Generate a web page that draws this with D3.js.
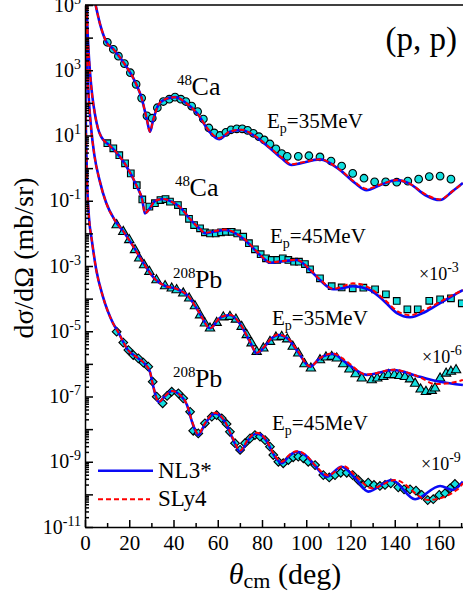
<!DOCTYPE html>
<html><head><meta charset="utf-8">
<script src="https://cdn.jsdelivr.net/npm/d3@7"></script>
<style>
body{margin:0;background:#fff}
svg{display:block}
.axis line,.axis path{stroke:#000;stroke-width:1.5}
</style>
</head><body><svg id="c" width="463" height="599"></svg>
<script>
// ---------- axis ticks ----------
const xMajorTicks = [0,20,40,60,80,100,120,140,160];
const xMinorTicks = [10,30,50,70,90,110,130,150,170];
const yLabelExps = [-11,-9,-7,-5,-3,-1,1,3,5];

// ---------- experimental data [theta, dσ/dΩ] ----------
const ca35Data = [[10.1,7.2e3],[12.8,4.4e3],[15.1,2.7e3],[17.8,1.6e3],[20.5,840],[23.1,370],[25.6,140],[28.0,40],[30.4,34],[32.7,71],[35.4,110],[38.1,130],[40.7,150],[43.3,130],[45.6,110],[48.2,80],[50.9,54],[53.5,32],[56.0,17],[58.4,12],[61.0,10],[63.7,12.5],[66.0,15],[68.6,16],[71.1,16],[73.5,14.4],[76.1,11.7],[78.6,9.2],[81.0,7.3],[83.6,5.5],[86.3,3.9],[88.9,2.8],[91.4,2.3],[96.4,2.3],[101.2,2.4],[106.2,2.2],[111.2,1.65],[116.0,1.16],[121.0,0.69],[126.1,0.49],[130.9,0.38],[135.9,0.38],[140.9,0.37],[145.9,0.40],[150.8,0.46],[155.6,0.55],[160.5,0.57],[165.4,0.46]];
const ca45Data = [[10.1,5.8],[12.8,4.05],[15.5,2.5],[18.1,1.4],[20.7,0.69],[23.4,0.30],[25.9,0.11],[29.1,0.066],[31.6,0.084],[34.1,0.105],[36.4,0.113],[38.4,0.094],[42.0,0.074],[44.3,0.046],[47.0,0.028],[49.3,0.018],[52.0,0.0143],[54.2,0.0108],[56.5,0.010],[59.1,0.010],[61.5,0.0108],[63.7,0.0112],[66.3,0.0112],[68.8,0.010],[71.5,0.0079],[74.1,0.0050],[76.8,0.00325],[79.4,0.0023],[81.8,0.00172],[84.4,0.00153],[86.9,0.00153],[89.4,0.00172],[91.9,0.00153],[94.5,0.00136],[96.7,0.00136],[99.4,0.00115],[101.7,7.9e-4],[106.2,4.2e-4],[111.5,2.4e-4],[116.0,2.2e-4],[121.0,2.07e-4],[125.8,2.16e-4],[131.1,1.93e-4],[136.0,1.36e-4],[140.9,8.5e-5],[145.7,4.7e-5],[150.4,4.7e-5],[155.6,8.6e-5],[160.5,9.5e-5],[165.4,1.02e-4],[170.3,7.2e-5]];
const pb35Data = [[14.3,0.018],[17.3,0.0112],[20.0,0.0063],[22.6,0.0031],[24.5,0.00172],[26.7,0.00107],[29.1,6.7e-4],[32.3,3.7e-4],[36.2,2.44e-4],[39.2,2.07e-4],[41.4,1.84e-4],[44.4,1.46e-4],[47.1,1.02e-4],[49.7,5.9e-5],[52.0,3.1e-5],[54.2,1.75e-5],[56.5,1.23e-5],[59.5,1.83e-5],[62.5,2.7e-5],[65.5,2.8e-5],[68.2,2.3e-5],[70.8,1.38e-5],[73.1,7.7e-6],[75.3,4.3e-6],[77.6,2.36e-6],[80.6,3.0e-6],[83.6,4.8e-6],[86.3,6.5e-6],[88.9,6.8e-6],[91.4,5.7e-6],[93.9,3.4e-6],[96.4,2.1e-6],[99.2,9.9e-7],[102.1,7.3e-7],[106.2,1.31e-6],[108.9,1.59e-6],[111.5,1.66e-6],[113.8,1.48e-6],[116.7,9.9e-7],[119.5,6.8e-7],[122.3,4.9e-7],[125.1,3.6e-7],[129.6,3.2e-7],[132.1,3.6e-7],[134.8,4.0e-7],[137.1,4.6e-7],[139.8,4.6e-7],[142.1,4.3e-7],[144.6,4.0e-7],[146.9,3.4e-7],[149.2,2.5e-7],[151.7,1.66e-7],[154.1,1.40e-7],[156.7,1.51e-7],[158.2,1.79e-7],[160.5,3.6e-7],[163.2,5.1e-7],[165.4,5.8e-7],[167.7,6.5e-7]];
const pb45Data = [[14.3,9.7e-6],[17.3,4.5e-6],[19.6,2.66e-6],[21.8,1.87e-6],[24.1,1.48e-6],[26.4,1.09e-6],[28.6,8.2e-7],[30.6,2.84e-7],[32.4,9.9e-8],[35.1,6.2e-8],[37.1,1.04e-7],[39.2,1.40e-7],[42.2,1.25e-7],[44.4,8.8e-8],[47.5,3.4e-8],[48.9,8.9e-9],[51.2,7.4e-9],[54.2,1.51e-8],[57.3,2.4e-8],[59.5,2.7e-8],[61.8,2.15e-8],[64.0,1.44e-8],[65.5,8.3e-9],[67.8,3.7e-9],[70.1,2.3e-9],[72.3,3.7e-9],[74.6,5.2e-9],[76.8,6.6e-9],[79.1,5.9e-9],[81.4,4.6e-9],[83.6,2.9e-9],[85.1,1.61e-9],[87.4,1.0e-9],[89.6,9.0e-10],[91.9,1.13e-9],[94.1,1.37e-9],[96.4,1.43e-9],[98.7,1.28e-9],[100.9,1.0e-9],[104.0,7.9e-10],[107.7,3.9e-10],[110.4,3.3e-10],[113.0,3.9e-10],[115.6,4.6e-10],[118.3,4.6e-10],[121.0,3.9e-10],[123.5,2.76e-10],[125.8,1.94e-10],[128.0,2.28e-10],[130.6,1.94e-10],[133.3,1.81e-10],[135.6,1.94e-10],[138.2,2.18e-10],[141.6,1.64e-10],[144.2,1.43e-10],[146.9,1.43e-10],[149.6,1.30e-10],[152.2,9.6e-11],[154.9,6.7e-11],[157.4,7.1e-11],[160.1,9.6e-11],[162.7,1.08e-10],[165.0,1.53e-10],[167.2,2.08e-10]];

// ---------- model curves [theta, dσ/dΩ] ----------
const ca35NL3 = [[4.8,1e5],[6.8,2.6e4],[9.6,7.5e3],[13,4.3e3],[17.6,1.66e3],[23.1,380],[25.6,140],[28.0,30],[29.4,13],[30.7,28],[32.7,75],[35.3,120],[40.7,150],[45.6,100],[50.9,46],[56.0,13.7],[60.6,7.7],[65.5,13],[70.8,14.8],[75.9,10.4],[83.6,4.1],[88.9,2.0],[93.4,1.25],[97.2,1.4],[106.2,1.86],[115.3,0.87],[122.0,0.35],[127.3,0.21],[133.3,0.30],[140.9,0.43],[146.9,0.33],[153.7,0.15],[160.5,0.105],[165.9,0.19],[170.8,0.35]];
const ca35SLy4 = [[4.8,1e5],[6.8,2.6e4],[9.6,7.5e3],[13,4.3e3],[17.6,1.66e3],[23.1,380],[25.6,140],[28.0,30],[29.4,13],[30.7,28],[32.7,75],[35.3,120],[40.7,150],[45.6,100],[50.9,46],[56.0,14.5],[60.6,8.3],[65.5,13.3],[70.8,15],[75.9,10.6],[83.6,4.2],[88.9,2.1],[93.4,1.32],[97.2,1.45],[106.2,1.86],[115.3,0.88],[122.0,0.37],[127.3,0.23],[133.3,0.31],[140.9,0.43],[146.9,0.33],[153.7,0.16],[160.5,0.11],[165.9,0.19],[170.8,0.35]];
const ca45NL3 = [[0.75,1e5],[1.1,2e4],[1.6,4e3],[2.3,800],[3.3,160],[4.5,45],[5.8,17],[7.3,9.2],[8.9,6.6],[10.1,5.7],[12.7,3.9],[18.1,1.34],[23.4,0.28],[25.9,0.105],[27.1,0.041],[29.4,0.06],[31.6,0.098],[35.3,0.113],[39.3,0.092],[42.9,0.064],[47.5,0.0275],[52.0,0.0136],[54.2,0.0102],[58.8,0.0114],[63.3,0.0127],[67.8,0.0102],[72.3,0.0063],[76.8,0.0031],[80.5,0.00176],[83.6,0.00126],[90.4,0.00142],[95.7,0.00153],[101.7,7.5e-4],[106.2,3.7e-4],[112.2,1.93e-4],[116.6,2.1e-4],[121.1,2.4e-4],[128.8,1.84e-4],[135.6,7.9e-5],[141.0,3.6e-5],[146.9,2.7e-5],[153.7,3.9e-5],[160.5,7.3e-5],[165.9,1.2e-4],[170.8,1.84e-4]];
const ca45SLy4 = [[0.75,1e5],[1.1,2e4],[1.6,4e3],[2.3,800],[3.3,160],[4.5,45],[5.8,17],[7.3,9.2],[8.9,6.6],[10.1,5.7],[12.7,3.9],[18.1,1.34],[23.4,0.28],[25.9,0.105],[27.1,0.041],[29.4,0.06],[31.6,0.098],[35.3,0.113],[39.3,0.092],[42.9,0.064],[47.5,0.0275],[52.0,0.0136],[54.2,0.0104],[58.8,0.0118],[63.3,0.0131],[67.8,0.0105],[72.3,0.0065],[76.8,0.0032],[80.5,0.0018],[83.6,0.0013],[90.4,0.00145],[95.7,0.00155],[101.7,7.8e-4],[106.2,3.9e-4],[112.2,2.0e-4],[116.6,2.4e-4],[121.1,2.95e-4],[128.8,2.1e-4],[135.6,9.0e-5],[141.0,4.2e-5],[146.9,3.1e-5],[153.7,4.6e-5],[160.5,8.0e-5],[165.9,1.25e-4],[170.8,1.84e-4]];
const pb35NL3 = [[0.35,1e5],[0.7,6e3],[1.2,700],[1.8,110],[2.8,16],[4.2,2.6],[6.6,0.42],[9.6,0.085],[13.4,0.0257],[17.2,0.0118],[22.6,0.0033],[26.7,0.00115],[31.6,4.0e-4],[36.2,2.44e-4],[41.6,1.97e-4],[47.0,1.12e-4],[52.0,3.4e-5],[56.5,1.23e-5],[61.0,2.55e-5],[65.5,3.15e-5],[70.1,1.67e-5],[74.6,4.7e-6],[77.6,2.1e-6],[81.4,3.5e-6],[84.5,6.2e-6],[87.4,7.7e-6],[91.8,5.8e-6],[96.3,2.3e-6],[101.7,8.2e-7],[106.2,1.5e-6],[112.2,2.0e-6],[117.5,1.15e-6],[127.3,4.6e-7],[139.3,6.5e-7],[151.4,4.0e-7],[160.5,2.85e-7],[170.8,2.25e-7]];
const pb35SLy4 = [[0.35,1e5],[0.7,6e3],[1.2,700],[1.8,110],[2.8,16],[4.2,2.6],[6.6,0.42],[9.6,0.085],[13.4,0.0257],[17.2,0.0118],[22.6,0.0033],[26.7,0.00115],[31.6,4.0e-4],[36.2,2.44e-4],[41.6,1.97e-4],[47.0,1.12e-4],[52.0,3.4e-5],[56.5,1.23e-5],[61.0,2.6e-5],[65.5,3.2e-5],[70.1,1.7e-5],[74.6,4.8e-6],[77.6,2.2e-6],[81.4,3.6e-6],[84.5,6.4e-6],[87.4,7.9e-6],[91.8,6.0e-6],[96.3,2.4e-6],[101.7,8.3e-7],[106.2,1.5e-6],[112.2,2.1e-6],[117.5,1.3e-6],[127.3,4.7e-7],[139.3,6.6e-7],[151.4,3.9e-7],[158.2,2.4e-7],[165.0,2.6e-7],[170.8,3.2e-7]];
const pb45NL3 = [[0.06,1e5],[0.15,1e3],[0.3,60],[0.6,3.5],[1.0,0.3],[1.5,0.06],[2.1,0.018],[2.85,7.9e-3],[5.1,7.5e-4],[8.1,1.15e-4],[12.7,1.75e-5],[14.9,9.7e-6],[19.4,2.66e-6],[24.0,1.5e-6],[27.1,9.9e-7],[29.4,5.6e-7],[30.7,2.25e-7],[33.4,6.8e-8],[36.2,1.03e-7],[39.3,1.47e-7],[42.9,1.11e-7],[46.1,5.5e-8],[48.4,1.65e-8],[51.2,6.6e-9],[54.2,1.44e-8],[58.8,3.05e-8],[63.3,1.65e-8],[66.4,5.8e-9],[70.1,2.03e-9],[73.7,4.6e-9],[77.6,7.4e-9],[81.8,4.6e-9],[85.4,1.61e-9],[88.9,9.0e-10],[92.7,1.61e-9],[95.7,2.03e-9],[99.4,1.62e-9],[104.0,7.4e-10],[109.2,3.5e-10],[116.0,7.0e-10],[122.0,3.2e-10],[128.0,1.21e-10],[138.6,2.76e-10],[149.2,7.1e-11],[160.5,1.81e-10],[166.3,1.36e-10],[170.8,2.45e-10]];
const pb45SLy4 = [[0.06,1e5],[0.15,1e3],[0.3,60],[0.6,3.5],[1.0,0.3],[1.5,0.06],[2.1,0.018],[2.85,7.9e-3],[5.1,7.5e-4],[8.1,1.15e-4],[12.7,1.75e-5],[14.9,9.7e-6],[19.4,2.66e-6],[24.0,1.5e-6],[27.1,9.9e-7],[29.4,5.6e-7],[30.7,2.25e-7],[33.4,6.8e-8],[36.2,1.03e-7],[39.3,1.47e-7],[42.9,1.11e-7],[46.1,5.5e-8],[48.4,1.7e-8],[51.2,7.0e-9],[54.2,1.5e-8],[58.8,3.15e-8],[63.3,1.7e-8],[66.4,6.0e-9],[70.1,2.2e-9],[73.7,4.9e-9],[77.6,7.7e-9],[81.8,4.8e-9],[85.4,1.7e-9],[88.9,1.0e-9],[92.7,1.7e-9],[95.7,2.1e-9],[99.4,1.7e-9],[104.0,7.8e-10],[109.9,3.8e-10],[116.8,7.4e-10],[122.5,3.6e-10],[129.6,1.53e-10],[140.1,2.76e-10],[155.2,6.7e-11],[168.0,1.36e-10],[170.8,2.2e-10]];

// ---------- setup ----------
const FONT = '"Liberation Serif"';
const svg = d3.select('#c');
const x = d3.scaleLinear().domain([0,180]).range([85, 85 + 180*2.2125]);
const y = d3.scaleLog().domain([1e-11,1e5]).range([527,5]);

svg.append('defs').append('clipPath').attr('id','plot')
  .append('rect').attr('x',85).attr('y',5).attr('width',380).attr('height',522);

const line = d3.line().x(d=>x(d[0])).y(d=>y(d[1])).curve(d3.curveMonotoneX);

const cyan = '#13dede';
const datasets = [
  {data: ca35Data, sym: d3.symbolCircle, size: 46, rot: 0},
  {data: ca45Data, sym: d3.symbolSquare, size: 44, rot: 0},
  {data: pb35Data, sym: d3.symbolTriangle, size: 38, rot: 0},
  {data: pb45Data, sym: d3.symbolSquare, size: 38, rot: 45}
];
const markers = svg.append('g').attr('clip-path','url(#plot)');
datasets.forEach(ds=>{
  markers.append('g').selectAll('path').data(ds.data).join('path')
    .attr('d', d3.symbol().type(ds.sym).size(ds.size)())
    .attr('transform', d=>`translate(${x(d[0])},${y(d[1])}) rotate(${ds.rot})`)
    .attr('fill', cyan).attr('stroke','#000').attr('stroke-width',1.1);
});

const curves = svg.append('g').attr('clip-path','url(#plot)');
[ca35NL3, ca45NL3, pb35NL3, pb45NL3].forEach(c=>{
  curves.append('path').datum(c).attr('d',line)
    .attr('fill','none').attr('stroke','#0a0af5').attr('stroke-width',2.6);
});
[ca35SLy4, ca45SLy4, pb35SLy4, pb45SLy4].forEach(c=>{
  curves.append('path').datum(c).attr('d',line)
    .attr('fill','none').attr('stroke','#ff0000').attr('stroke-width',2)
    .attr('stroke-dasharray','5,3');
});

// ---------- axes ----------
const yMinor = [];
for (let e=-11; e<5; e++) for (let k=2;k<10;k++) yMinor.push(k*Math.pow(10,e));
const yMajor = d3.range(-11,6).map(e=>Math.pow(10,e));

svg.append('g').attr('class','axis').attr('transform','translate(85,0)')
  .call(d3.axisLeft(y).tickValues(yMinor).tickSize(-4).tickFormat(''))
  .call(g=>g.select('.domain').remove());
svg.append('g').attr('class','axis').attr('transform','translate(85,0)')
  .call(d3.axisLeft(y).tickValues(yMajor).tickSize(-8).tickSizeOuter(0).tickFormat(''));

svg.append('g').attr('class','axis').attr('transform','translate(0,527)')
  .call(d3.axisBottom(x).tickValues(xMinorTicks).tickSize(-4).tickFormat(''))
  .call(g=>g.select('.domain').remove());
const xAx = svg.append('g').attr('class','axis').attr('transform','translate(0,527)')
  .call(d3.axisBottom(x).tickValues(xMajorTicks).tickSize(-7).tickSizeOuter(0).tickPadding(8));
xAx.selectAll('text').style('font-family',FONT).attr('font-size',21).attr('fill','#000');

// top frame
svg.append('line').attr('x1',85).attr('x2',470).attr('y1',5).attr('y2',5)
  .attr('stroke','#000').attr('stroke-width',1.5);

function T(xp, yp, size){
  return svg.append('text').attr('x',xp).attr('y',yp).attr('font-size',size)
    .style('font-family',FONT).attr('fill','#000');
}

// y tick labels
yLabelExps.forEach(e=>{
  const t = T(81, y(Math.pow(10,e))+6.5, 20).attr('text-anchor','end');
  t.append('tspan').text('10');
  t.append('tspan').attr('font-size',14).attr('dy',-8).text(String(e));
});

// axis titles
const xt = T(285, 584, 30).attr('text-anchor','middle');
xt.append('tspan').attr('font-style','italic').text('θ');
xt.append('tspan').attr('font-size',22).attr('dy',4).text('cm');
xt.append('tspan').attr('dy',-4).text(' (deg)');

T(0,0,28).attr('x',null).attr('y',null).attr('transform','translate(33,258) rotate(-90)')
  .attr('text-anchor','middle').text('dσ/dΩ (mb/sr)');

// annotations
T(457, 50, 33).attr('text-anchor','end').text('(p, p)');

function nucleus(xp, yb, mass, sym){
  T(xp, yb-10, 15).text(mass);
  T(xp + mass.length*7.3, yb, 26).text(sym);
}
nucleus(177,95,'48','Ca');
nucleus(175,196,'48','Ca');
nucleus(173,288,'208','Pb');
nucleus(173,387,'208','Pb');

function energy(xp, yb, e){
  const t = T(xp, yb, 21);
  t.append('tspan').text('E');
  t.append('tspan').attr('font-size',14).attr('dy',5).text('p');
  t.append('tspan').attr('dy',-5).text('=' + e + 'MeV');
}
energy(267,128,'35');
energy(270,243,'45');
energy(272,325,'35');
energy(272,430,'45');

function scaleLbl(xp, yb, e){
  const t = T(xp, yb, 18);
  t.append('tspan').text('×10');
  t.append('tspan').attr('font-size',14).attr('dy',-8).text(e);
}
scaleLbl(419,280,'-3');
scaleLbl(422,363,'-6');
scaleLbl(421,470,'-9');

// legend
svg.append('line').attr('x1',98).attr('x2',153).attr('y1',470.7).attr('y2',470.7)
  .attr('stroke','#0a0af5').attr('stroke-width',2.6);
svg.append('line').attr('x1',98).attr('x2',150).attr('y1',499.3).attr('y2',499.3)
  .attr('stroke','#ff0000').attr('stroke-width',2).attr('stroke-dasharray','5,3');
T(158, 478, 23).text('NL3*');
T(158, 506, 23).text('SLy4');
</script>
</body></html>
